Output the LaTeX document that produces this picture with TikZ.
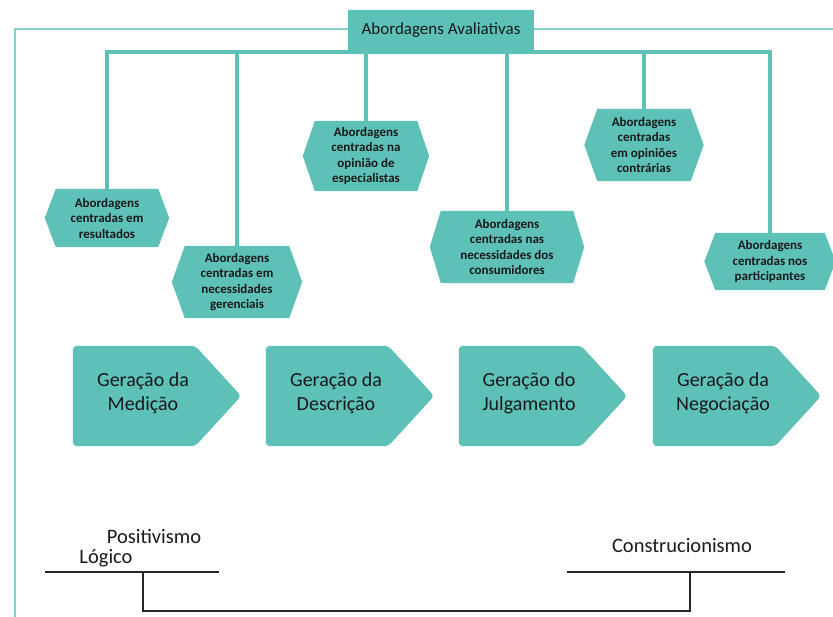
\documentclass[tikz,border=0pt]{standalone}
\usepackage{fontspec}
\setmainfont{Carlito}
\usetikzlibrary{backgrounds,calc}
\definecolor{tealc}{HTML}{5EC1B8}
\definecolor{framecol}{HTML}{86D1CA}
\definecolor{txt}{HTML}{1A1A1A}
\newcommand\myhexfill[2]{\fill[tealc] (#1.north west) -- (#1.north east) -- ([xshift=#2pt]#1.east) -- (#1.south east) -- (#1.south west) -- ([xshift=-#2pt]#1.west) -- cycle;}
\newcommand\myarrowfill[1]{\fill[tealc,rounded corners=4pt] (#1.north west) -- ([xshift=-18pt]#1.north east) -- ([xshift=28pt]#1.east) -- ([xshift=-18pt]#1.south east) -- (#1.south west) -- cycle;}
\begin{document}
\begin{tikzpicture}[x=1pt,y=-1pt,
  conn/.style={draw=tealc,line width=4pt},
  framec/.style={draw=framecol,line width=2pt},
  hexbox/.style={inner sep=0pt,align=center,font=\fontsize{13}{15.5}\selectfont\bfseries,text=txt},
  genbox/.style={inner sep=0pt,align=center,minimum width=140pt,minimum height=100pt,font=\fontsize{20}{24}\selectfont,text=txt,execute at end node={\rule[-8pt]{0pt}{8pt}}},
  lbl/.style={inner sep=0pt,font=\fontsize{20.5}{22}\selectfont,text=txt},
  blk/.style={draw=black!85,line width=1.2pt}]
\useasboundingbox (0,0) rectangle (833,617);
% frame
\draw[framec] (15,617) -- (15,29) -- (833,29);
% title
\node[fill=tealc,minimum width=186pt,minimum height=40pt,inner sep=0pt,font=\fontsize{17}{20}\selectfont,text=txt] (title) at (441,30) {Abordagens Avaliativas};
\coordinate (bus) at (441,52);
% hexagon nodes
\node[hexbox,minimum width=102pt,minimum height=58pt] (h1) at (107,218) {Abordagens\\centradas em\\resultados};
\node[hexbox,minimum width=104pt,minimum height=72pt] (h2) at (237,282) {Abordagens\\centradas em\\necessidades\\gerenciais};
\node[hexbox,minimum width=102pt,minimum height=70pt] (h3) at (366,156) {Abordagens\\centradas na\\opinião de\\especialistas};
\node[hexbox,minimum width=132pt,minimum height=72pt] (h4) at (507,247) {Abordagens\\centradas nas\\necessidades dos\\consumidores};
\node[hexbox,minimum width=93pt,minimum height=72pt] (h5) at (644,145) {Abordagens\\centradas\\em opiniões\\contrárias};
\node[hexbox,minimum width=109pt,minimum height=57pt] (h6) at (770,261.5) {Abordagens\\centradas nos\\participantes};
% generation nodes
\node[genbox] (g1) at (143,396) {Geração da\\Medição};
\node[genbox] (g2) at (336,396) {Geração da\\Descrição};
\node[genbox] (g3) at (529,396) {Geração do\\Julgamento};
\node[genbox] (g4) at (723,396) {Geração da\\Negociação};
\begin{scope}[on background layer]
  \myhexfill{h1}{11}
  \myhexfill{h2}{13}
  \myhexfill{h3}{12}
  \myhexfill{h4}{11}
  \myhexfill{h5}{13}
  \myhexfill{h6}{11}
  \myarrowfill{g1}
  \myarrowfill{g2}
  \myarrowfill{g3}
  \myarrowfill{g4}
\end{scope}
% connectors
\foreach \h in {h1,h2,h3,h4,h5,h6}{
  \draw[conn] (\h.north) |- (title.south |- bus);
}
% bottom
\node[lbl] (pos) at (154,536) {Positivismo};
\node[lbl] (log) at (106,558) {Lógico};
\node[lbl] (con) at (682,546) {Construcionismo};
\coordinate (la) at (45,572);
\coordinate (lb) at (219,572);
\coordinate (ra) at (567,572);
\coordinate (rb) at (785,572);
\coordinate (lm) at (143,572);
\coordinate (rm) at (690,572);
\coordinate (bot) at (0,611);
\draw[blk] (la) -- (lb);
\draw[blk] (ra) -- (rb);
\draw[blk] (lm) |- (rm |- bot) -- (rm);
\end{tikzpicture}
\end{document}
